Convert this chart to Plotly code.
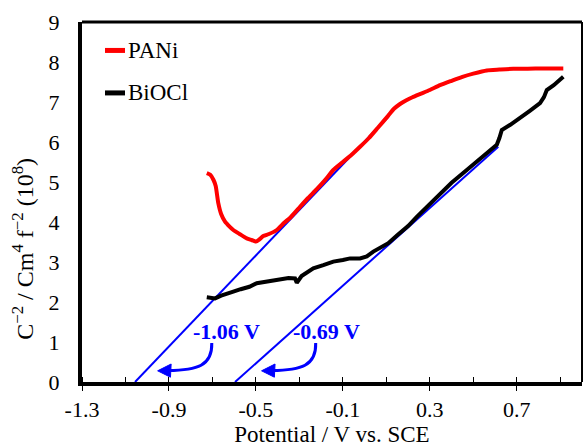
import plotly.graph_objects as go

# ---------------- data ----------------
pani_x = [-0.726, -0.71, -0.695, -0.685, -0.673, -0.66, -0.642, -0.62, -0.604, -0.575, -0.542, -0.52,
          -0.500, -0.485, -0.466, -0.44, -0.404, -0.37, -0.34, -0.297, -0.26, -0.22, -0.18, -0.144,
          -0.10, -0.06, -0.021, 0.02, 0.06, 0.109, 0.135, 0.163, 0.19, 0.22, 0.26, 0.30, 0.347, 0.40,
          0.45, 0.500, 0.562, 0.62, 0.684, 0.75, 0.82, 0.914]
pani_y = [5.22, 5.18, 5.05, 4.90, 4.47, 4.20, 4.01, 3.88, 3.80, 3.70, 3.59, 3.55,
          3.51, 3.56, 3.65, 3.70, 3.80, 3.98, 4.12, 4.38, 4.60, 4.82, 5.06, 5.30,
          5.50, 5.68, 5.88, 6.10, 6.35, 6.66, 6.83, 6.95, 7.04, 7.12, 7.21, 7.30, 7.42, 7.53,
          7.63, 7.71, 7.79, 7.81, 7.83, 7.83, 7.84, 7.84]

bi_x = [-0.726, -0.70, -0.688, -0.66, -0.63, -0.604, -0.57, -0.53, -0.496, -0.46, -0.42, -0.389,
        -0.35, -0.320, -0.312, -0.29, -0.26, -0.236, -0.19, -0.144, -0.10, -0.067, -0.021, 0.01,
        0.040, 0.075, 0.109, 0.15, 0.20, 0.240, 0.29, 0.347, 0.40, 0.470, 0.54, 0.608, 0.62,
        0.631, 0.67, 0.715, 0.76, 0.807, 0.825, 0.838, 0.87, 0.914]
bi_y = [2.12, 2.10, 2.09, 2.16, 2.20, 2.26, 2.32, 2.38, 2.47, 2.50, 2.53, 2.55,
        2.60, 2.59, 2.48, 2.65, 2.76, 2.84, 2.92, 3.01, 3.05, 3.09, 3.09, 3.14,
        3.26, 3.36, 3.47, 3.67, 3.90, 4.13, 4.40, 4.72, 4.98, 5.30, 5.62, 5.93, 6.10,
        6.30, 6.43, 6.59, 6.78, 6.97, 7.12, 7.30, 7.42, 7.63]

# Mott-Schottky linear fits (x-intercept to upper end)
pani_fit_x = [-1.056, 0.109]
pani_fit_y = [0.0, 6.63]
bi_fit_x = [-0.596, 0.615]
bi_fit_y = [0.0, 5.88]

fit_labels = ["-1.06 V", "-0.69 V"]
label_x = [-0.636, -0.176]
label_y = [1.27, 1.27]

# curved arrows: start, control1, control2, end
arrow_start_x = [-0.703, -0.225]
arrow_start_y = [0.975, 0.975]
arrow_c1_x = [-0.700, -0.222]
arrow_c1_y = [0.40, 0.40]
arrow_c2_x = [-0.770, -0.292]
arrow_c2_y = [0.30, 0.30]
arrow_end_x = [-0.905, -0.427]
arrow_end_y = [0.285, 0.285]
# arrowheads: tip, upper back, lower back
head_tip_x = [-0.952, -0.474]
head_tip_y = [0.28, 0.28]
head_up_x = [-0.890, -0.412]
head_up_y = [0.45, 0.45]
head_lo_x = [-0.893, -0.415]
head_lo_y = [0.12, 0.12]

x_tickvals = [-1.3, -0.9, -0.5, -0.1, 0.3, 0.7]
x_ticktext = ["-1.3", "-0.9", "-0.5", "-0.1", "0.3", "0.7"]
y_tickvals = [0, 1, 2, 3, 4, 5, 6, 7, 8, 9]
y_ticktext = ["0", "1", "2", "3", "4", "5", "6", "7", "8", "9"]

series_names = ["PANi", "BiOCl"]
series_colors = ["#FF0000", "#000000"]

FONT = "Liberation Serif, Times New Roman, serif"
BLUE = "#0000FF"

fig = go.Figure()

fig.add_trace(go.Scatter(x=pani_fit_x, y=pani_fit_y, mode="lines",
                         line=dict(color=BLUE, width=2), showlegend=False, hoverinfo="skip"))
fig.add_trace(go.Scatter(x=bi_fit_x, y=bi_fit_y, mode="lines",
                         line=dict(color=BLUE, width=2), showlegend=False, hoverinfo="skip"))
fig.add_trace(go.Scatter(x=pani_x, y=pani_y, mode="lines", name=series_names[0],
                         line=dict(color=series_colors[0], width=4, shape="spline", smoothing=0.5),
                         showlegend=False))
fig.add_trace(go.Scatter(x=bi_x, y=bi_y, mode="lines", name=series_names[1],
                         line=dict(color=series_colors[1], width=4), showlegend=False))

shapes = []
annotations = []

# curved arrows + labels
for i in range(2):
    path = (f"M {arrow_start_x[i]},{arrow_start_y[i]} "
            f"C {arrow_c1_x[i]},{arrow_c1_y[i]} {arrow_c2_x[i]},{arrow_c2_y[i]} "
            f"{arrow_end_x[i]},{arrow_end_y[i]}")
    shapes.append(dict(type="path", xref="x", yref="y", path=path,
                       line=dict(color=BLUE, width=3)))
    head = (f"M {head_tip_x[i]},{head_tip_y[i]} L {head_up_x[i]},{head_up_y[i]} "
            f"L {head_lo_x[i]},{head_lo_y[i]} Z")
    shapes.append(dict(type="path", xref="x", yref="y", path=head,
                       fillcolor=BLUE, line=dict(color=BLUE, width=1)))
    annotations.append(dict(x=label_x[i], y=label_y[i], xref="x", yref="y",
                            text=f"<b>{fit_labels[i]}</b>", showarrow=False,
                            font=dict(family=FONT, size=22, color=BLUE)))

# manual legend
legend_y = [0.921, 0.803]
for i in range(2):
    shapes.append(dict(type="line", xref="paper", yref="paper",
                       x0=0.046, x1=0.086, y0=legend_y[i], y1=legend_y[i],
                       line=dict(color=series_colors[i], width=5)))
    annotations.append(dict(x=0.088, y=legend_y[i], xref="paper", yref="paper",
                            xanchor="left", yanchor="middle", text=series_names[i],
                            showarrow=False, font=dict(family=FONT, size=23, color="black")))

# frame
shapes.append(dict(type="line", xref="paper", yref="paper", x0=0, x1=1, y0=1, y1=1,
                   line=dict(color="black", width=3)))
shapes.append(dict(type="line", xref="paper", yref="paper", x0=1, x1=1, y0=0, y1=1,
                   line=dict(color="black", width=2)))

# y-axis title
annotations.append(dict(x=-0.118, y=0.37, xref="paper", yref="paper",
                        xanchor="center", yanchor="middle",
                        text="C<sup>−2</sup> / Cm<sup>4</sup> f<sup>−2</sup> (10<sup>8</sup>)",
                        textangle=-90, showarrow=False,
                        font=dict(family=FONT, size=24, color="black")))

fig.update_layout(
    width=584, height=447,
    margin=dict(l=82, r=2, t=22, b=65),
    paper_bgcolor="white", plot_bgcolor="white",
    font=dict(family=FONT, size=22, color="black"),
    shapes=shapes, annotations=annotations,
    showlegend=False,
)
fig.update_xaxes(
    range=[-1.3, 1.0], showgrid=False, zeroline=False,
    tickmode="array", tickvals=x_tickvals, ticktext=x_ticktext,
    ticks="outside", ticklen=5, tickwidth=1, tickcolor="black",
    showline=True, linecolor="black", linewidth=4,
    minor=dict(ticks="inside", ticklen=5, tickwidth=1, tickcolor="black", dtick=0.2, tick0=-1.3),
    tickfont=dict(family=FONT, size=22),
    title=dict(text="Potential / V vs. SCE", font=dict(family=FONT, size=23), standoff=6),
)
fig.update_yaxes(
    range=[0, 9], showgrid=False, zeroline=False,
    tickmode="array", tickvals=y_tickvals, ticktext=y_ticktext,
    ticks="", showline=True, linecolor="black", linewidth=4,
    tickfont=dict(family=FONT, size=22), ticklabelstandoff=14,
)

fig.write_html("out.html")
